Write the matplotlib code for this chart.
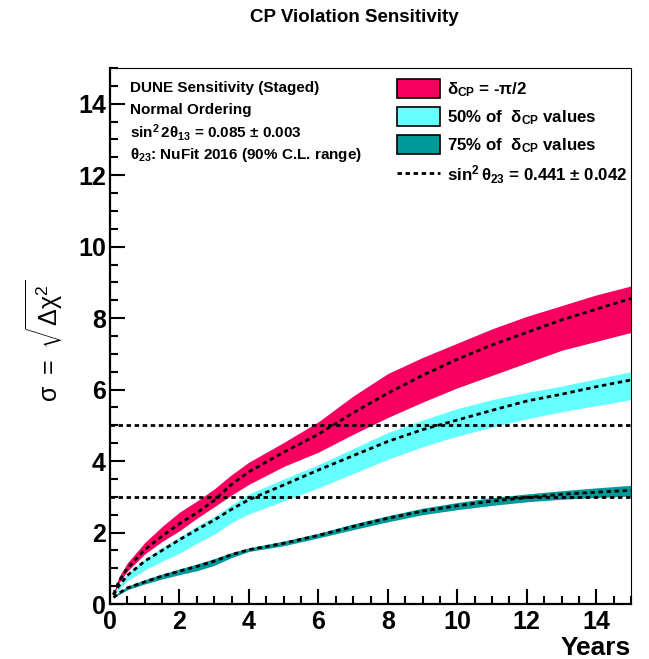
import matplotlib
matplotlib.use("Agg")
import matplotlib.pyplot as plt
from matplotlib.patches import Patch
from matplotlib.lines import Line2D
from matplotlib.ticker import MultipleLocator

plt.rcParams['font.family'] = ['Liberation Sans', 'DejaVu Sans']
plt.rcParams['mathtext.fontset'] = 'custom'
plt.rcParams['mathtext.rm'] = 'Liberation Sans:bold'
plt.rcParams['mathtext.it'] = 'Liberation Sans:bold'
plt.rcParams['mathtext.bf'] = 'Liberation Sans:bold'
plt.rcParams['mathtext.sf'] = 'Liberation Sans'

# ---- data ----
years = [0.1, 0.25, 0.5, 1, 1.5, 2, 2.5, 3, 3.5, 4, 5, 6, 7, 8, 9, 10, 11, 12, 13, 14, 15]

red_upper = [0.3, 0.75, 1.15, 1.72, 2.17, 2.57, 2.88, 3.22, 3.62, 3.97, 4.52, 5.1, 5.82, 6.45, 6.9, 7.3, 7.7, 8.05, 8.35, 8.65, 8.9]
red_lower = [0.25, 0.58, 0.92, 1.4, 1.75, 2.05, 2.4, 2.72, 3.05, 3.35, 3.85, 4.25, 4.75, 5.22, 5.65, 6.05, 6.4, 6.75, 7.1, 7.35, 7.6]
red_central = [0.27, 0.62, 1.0, 1.52, 1.9, 2.25, 2.55, 2.9, 3.35, 3.7, 4.25, 4.75, 5.35, 5.9, 6.4, 6.85, 7.25, 7.6, 7.95, 8.25, 8.55]

cyan_upper = [0.26, 0.52, 0.85, 1.25, 1.58, 1.88, 2.18, 2.45, 2.78, 3.08, 3.5, 3.9, 4.35, 4.8, 5.15, 5.47, 5.72, 5.92, 6.1, 6.3, 6.5]
cyan_lower = [0.22, 0.4, 0.65, 0.95, 1.2, 1.42, 1.7, 1.95, 2.28, 2.52, 2.88, 3.25, 3.65, 4.05, 4.4, 4.7, 4.95, 5.18, 5.38, 5.55, 5.72]
cyan_central = [0.25, 0.5, 0.8, 1.2, 1.5, 1.8, 2.08, 2.35, 2.65, 2.92, 3.33, 3.75, 4.15, 4.55, 4.88, 5.15, 5.42, 5.68, 5.87, 6.08, 6.27]

teal_upper = [0.2, 0.33, 0.5, 0.68, 0.84, 0.98, 1.12, 1.27, 1.44, 1.57, 1.76, 1.98, 2.24, 2.47, 2.68, 2.84, 2.98, 3.08, 3.17, 3.25, 3.32]
teal_lower = [0.17, 0.26, 0.4, 0.56, 0.7, 0.82, 0.93, 1.08, 1.3, 1.47, 1.63, 1.85, 2.08, 2.3, 2.5, 2.64, 2.76, 2.86, 2.93, 2.98, 3.02]
teal_central = [0.18, 0.3, 0.45, 0.62, 0.78, 0.92, 1.05, 1.2, 1.38, 1.52, 1.7, 1.92, 2.17, 2.4, 2.6, 2.75, 2.88, 2.98, 3.07, 3.13, 3.18]

sigma_lines = [5, 3]

labels = [r'$\delta_{\rm CP}$ = -π/2',
          r'50% of  $\delta_{\rm CP}$ values',
          r'75% of  $\delta_{\rm CP}$ values',
          r'$\sin^2\theta_{23}$ = 0.441 $\pm$ 0.042']
info_lines = ['DUNE Sensitivity (Staged)',
              'Normal Ordering',
              r'$\sin^2 2\theta_{13}$ = 0.085 $\pm$ 0.003',
              r'$\theta_{23}$: NuFit 2016 (90% C.L. range)']

RED = '#F8005F'
CYAN = '#66FFFF'
TEAL = '#009999'

W, H = 649, 659
fig = plt.figure(figsize=(W / 100, H / 100), dpi=100)
ax = fig.add_axes([110 / W, 1 - 604 / H, (631 - 110) / W, (604 - 68) / H])

ax.fill_between(years, red_lower, red_upper, color=RED, lw=0, zorder=2)
ax.fill_between(years, cyan_lower, cyan_upper, color=CYAN, lw=0, zorder=2)
ax.fill_between(years, teal_lower, teal_upper, color=TEAL, lw=0, zorder=2)

dot = (0, (1.6, 1.3))
for c in (red_central, cyan_central, teal_central):
    ax.plot(years, c, color='black', lw=2.0, linestyle=dot, zorder=3)
for s in sigma_lines:
    ax.axhline(s, color='black', lw=2.0, linestyle=dot, zorder=4)

ax.set_xlim(0, 15)
ax.set_ylim(0, 15)
ax.xaxis.set_major_locator(MultipleLocator(2))
ax.xaxis.set_minor_locator(MultipleLocator(0.5))
ax.yaxis.set_major_locator(MultipleLocator(2))
ax.yaxis.set_minor_locator(MultipleLocator(0.5))
ax.tick_params(which='both', direction='in', top=False, right=False, width=1.5)
ax.tick_params(which='major', length=11)
ax.tick_params(which='minor', length=5.5)
ax.tick_params(axis='x', which='major', pad=4, labelsize=18)
ax.tick_params(axis='y', which='major', pad=3, labelsize=18)
for lab in ax.get_xticklabels() + ax.get_yticklabels():
    lab.set_fontweight('bold')
for sp in ('left', 'bottom'):
    ax.spines[sp].set_linewidth(1.6)
for sp in ('top', 'right'):
    ax.spines[sp].set_linewidth(0.8)

# info text block
for i, t in enumerate(info_lines):
    fig.text(130 / W, 1 - (88 + i * 22.3) / H, t, fontsize=11, fontweight='bold',
             ha='left', va='center')

# legend
handles = [Patch(facecolor=RED, edgecolor='black', lw=1.2),
           Patch(facecolor=CYAN, edgecolor='black', lw=1.2),
           Patch(facecolor=TEAL, edgecolor='black', lw=1.2),
           Line2D([0], [0], color='black', lw=2.0, linestyle=dot)]
leg = fig.legend(handles, labels, loc='upper left', bbox_to_anchor=(397 / W, 1 - 79 / H),
                 frameon=False, fontsize=12.2, handlelength=2.55, handleheight=1.35,
                 labelspacing=0.48, handletextpad=0.4, borderpad=0, borderaxespad=0)
for t in leg.get_texts():
    t.set_fontweight('bold')

fig.text(354 / W, 1 - 17 / H, 'CP Violation Sensitivity', fontsize=13.5, fontweight='bold',
         ha='center', va='center')
fig.text(45 / W, 1 - 341 / H, r'$\mathsf{\sigma\ =\ \sqrt{\Delta\chi^2}}$', fontsize=18,
         rotation=90, ha='center', va='center')
fig.text(631 / W, 1 - 648 / H, 'Years', fontsize=19, fontweight='bold',
         ha='right', va='center')

fig.savefig('out.png', dpi=100)
